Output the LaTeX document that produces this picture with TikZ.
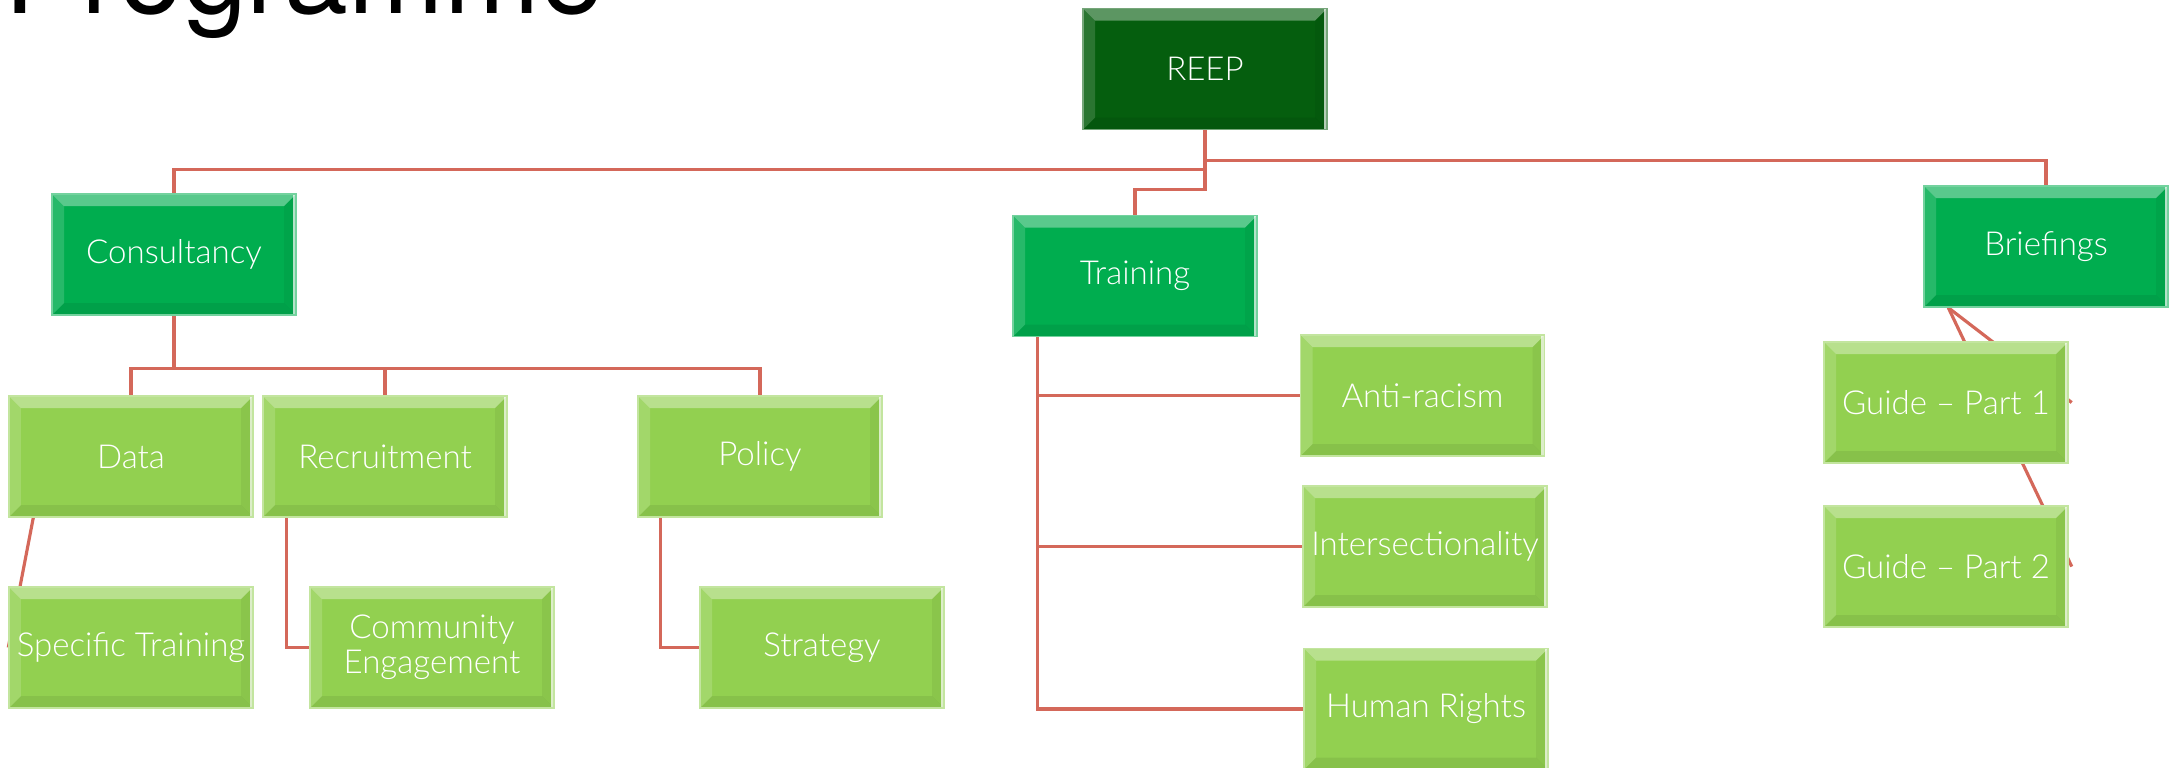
\documentclass[tikz,border=0pt]{standalone}
\usepackage{fontspec}
\newfontfamily\boxfont{Lato Light}
\newfontfamily\titlefont{TeX Gyre Heros}
\usetikzlibrary{backgrounds}

\definecolor{rootgreen}{HTML}{055E0E}
\definecolor{midgreen}{HTML}{00AD4F}
\definecolor{leafgreen}{HTML}{92D050}
\definecolor{wirered}{HTML}{D4685A}

\tikzset{
  bevel/.style={path picture={
    \path (path picture bounding box.north west) coordinate (nw)
          (path picture bounding box.north east) coordinate (ne)
          (path picture bounding box.south east) coordinate (se)
          (path picture bounding box.south west) coordinate (sw);
    \fill[white,opacity=.35] (nw) -- (ne) -- ([shift={(-.12,-.12)}]ne) -- ([shift={(.12,-.12)}]nw) -- cycle;
    \fill[white,opacity=.15] (nw) -- ([shift={(.12,-.12)}]nw) -- ([shift={(.12,.12)}]sw) -- (sw) -- cycle;
    \fill[black,opacity=.07] (sw) -- ([shift={(.12,.12)}]sw) -- ([shift={(-.12,.12)}]se) -- (se) -- cycle;
    \fill[black,opacity=.05] (se) -- ([shift={(-.12,.12)}]se) -- ([shift={(-.12,-.12)}]ne) -- (ne) -- cycle;
    \draw[white,opacity=.7,line width=.8pt] ([xshift=-.02cm]ne) -- ([xshift=-.02cm]se);
  }},
  unit/.style={draw=#1!55!white, fill=#1, bevel, minimum width=2.44cm,
    minimum height=1.21cm, inner sep=0pt, text=white, align=center,
    font=\boxfont\fontsize{9.4pt}{10pt}\selectfont},
  wire/.style={draw=wirered, line width=.9pt}
}

\begin{document}
\begin{tikzpicture}
\useasboundingbox (0,0) rectangle (21.77,-7.67);

\node[anchor=base west, inner sep=0pt, font=\titlefont\fontsize{32.7pt}{34pt}\selectfont]
  (title) at (0.04,-0.13) {Programme};

% ( root and the three services )
\path[every node/.style={unit=midgreen}]
(12.05,-0.69) node[unit=rootgreen](root){REEP}
(1.74,-2.545) node(s1){Consultancy}
(11.35,-2.76) node(s2){Training}
(20.46,-2.465) node(s3){Briefings};

% ( consultancy areas, two rows )
\path[every node/.style={unit=leafgreen}]
(1.31,-4.565) node(c1){Data} (3.85,-4.565) node(c2){Recruitment}
(7.60,-4.565) node(c3){Policy}
(1.31,-6.475) node(c4){Specific Training} (4.32,-6.475) node(c5){Community\\Engagement}
(8.22,-6.475) node(c6){Strategy};

% ( training topics and briefing guides )
\path[every node/.style={unit=leafgreen}]
(14.225,-3.955) node(t1){Anti-racism}
(14.25,-5.465) node(t2){Intersectionality}
(14.26,-7.09) node(t3){Human Rights}
(19.46,-4.025) node(b1){Guide – Part 1}
(19.46,-5.665) node(b2){Guide – Part 2};

\begin{pgfonlayer}{background}
\draw[wire] (root.south) -- ++(0,-.39) -| (s1.north);
\draw[wire] (root.south) -- ++(0,-.59) -| (s2.north);
\draw[wire] (root.south) -- ++(0,-.30) -| (s3.north);

\draw[wire] (s1.south) -- ++(0,-.53) -| (c1.north);
\draw[wire] (s1.south) -- ++(0,-.53) -| (c2.north);
\draw[wire] (s1.south) -- ++(0,-.53) -| (c3.north);
\draw[wire] ([xshift=.25cm]c1.south west) -- (c4.west);
\draw[wire] ([xshift=.24cm]c2.south west) |- (c5.west);
\draw[wire] ([xshift=.23cm]c3.south west) |- (c6.west);

\draw[wire] ([xshift=.25cm]s2.south west) |- (t1.west);
\draw[wire] ([xshift=.25cm]s2.south west) |- (t2.west);
\draw[wire] ([xshift=.25cm]s2.south west) |- (t3.west);

\draw[wire] ([xshift=.25cm]s3.south west) -- ([xshift=.03cm]b1.east);
\draw[wire] ([xshift=.25cm]s3.south west) -- ([xshift=.03cm]b2.east);
\end{pgfonlayer}
\end{tikzpicture}
\end{document}
